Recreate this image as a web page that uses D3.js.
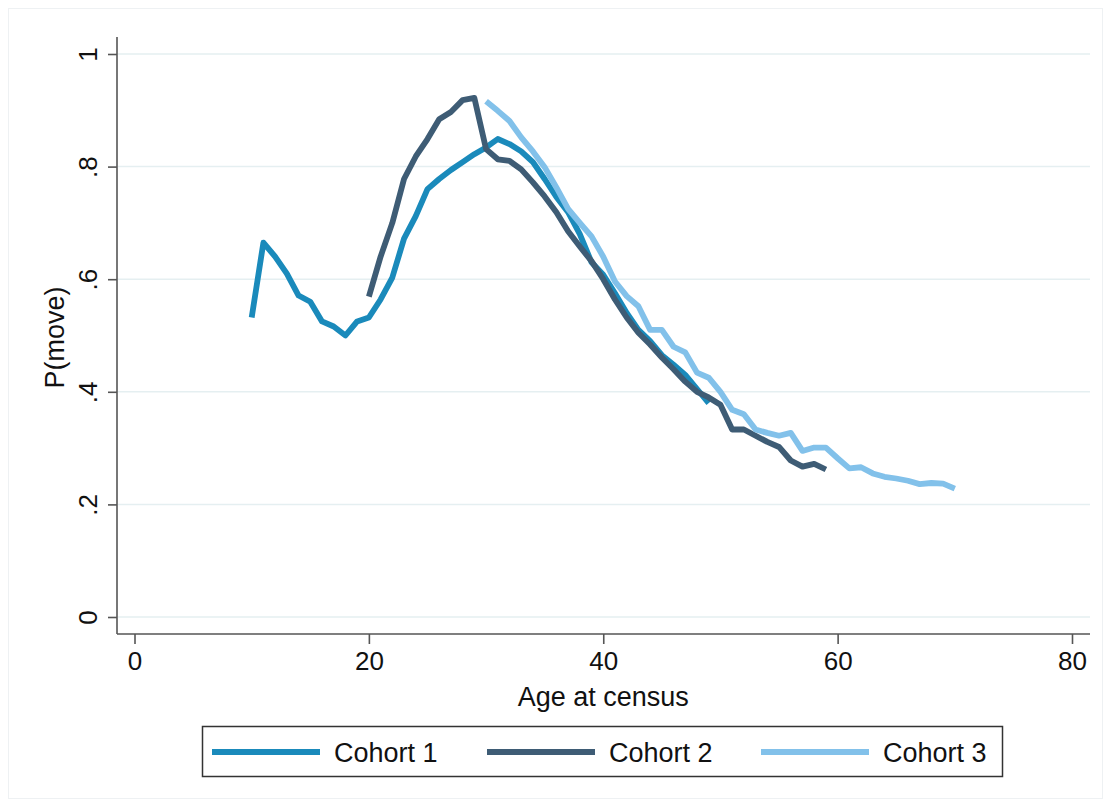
<!DOCTYPE html>
<html>
<head>
<meta charset="utf-8">
<script src="https://cdn.jsdelivr.net/npm/d3@7"></script>
<style>
  html, body { margin: 0; padding: 0; background: #fff; }
  svg { display: block; }
  text { font-family: "Liberation Sans", Arial, sans-serif; fill: #111; }
</style>
</head>
<body>
<svg id="chart" width="1111" height="807"></svg>
<script>
// ---- data ----
const seriesNames = ["Cohort 1", "Cohort 2", "Cohort 3"];
const ages1 = d3.range(10, 50);
const cohort1 = [.532,.665,.64,.61,.571,.56,.525,.516,.50,.525,.532,.564,.603,.672,.712,.76,.778,.794,.808,.822,.834,.849,.84,.827,.808,.778,.746,.719,.68,.63,.608,.575,.54,.51,.49,.465,.448,.43,.405,.38];
const ages2 = d3.range(20, 60);
const cohort2 = [.569,.64,.70,.778,.818,.849,.884,.897,.918,.922,.831,.813,.81,.795,.772,.747,.719,.685,.658,.632,.60,.564,.532,.505,.484,.461,.44,.418,.40,.39,.377,.333,.333,.322,.311,.302,.278,.267,.272,.262];
const ages3 = d3.range(30, 71);
const cohort3 = [.916,.899,.881,.852,.827,.799,.763,.725,.70,.676,.64,.596,.57,.552,.51,.51,.48,.47,.434,.425,.40,.368,.36,.333,.327,.322,.327,.295,.301,.301,.282,.264,.266,.255,.249,.246,.242,.236,.238,.237,.228];
const xTicks = [0, 20, 40, 60, 80];
const yTicks = [0, .2, .4, .6, .8, 1];
const yTickLabels = ["0", ".2", ".4", ".6", ".8", "1"];
const colors = ["#1a8abb", "#3e5c75", "#82c1ea"];

const svg = d3.select("#chart");

// graph region border
svg.append("rect").attr("x", 8.5).attr("y", 8.5).attr("width", 1094).attr("height", 790)
  .attr("fill", "#fff").attr("stroke", "#eef1f3").attr("stroke-width", 1);

const x = d3.scaleLinear().domain([0, 80]).range([134.5, 1072]);
const y = d3.scaleLinear().domain([0, 1]).range([617, 54]);
const axisLeftX = 117, axisBottomY = 634;

// gridlines
svg.append("g").selectAll("line").data(yTicks).join("line")
  .attr("x1", axisLeftX + 1).attr("x2", 1090)
  .attr("y1", d => y(d)).attr("y2", d => y(d))
  .attr("stroke", "#e5eff1").attr("stroke-width", 1.5);

// y axis
const yAxis = d3.axisLeft(y).tickValues(yTicks).tickFormat((d, i) => yTickLabels[i]).tickSize(9).tickPadding(8);
const gy = svg.append("g").attr("transform", `translate(${axisLeftX},0)`).call(yAxis);
gy.select(".domain").attr("d", `M0,${37}V${axisBottomY}`).attr("stroke", "#555").attr("stroke-width", 1.6);
gy.selectAll(".tick line").attr("stroke", "#555").attr("stroke-width", 1.6);
gy.selectAll(".tick text")
  .attr("font-size", 26).attr("font-family", "Liberation Sans, Arial, sans-serif").attr("fill", "#111")
  .attr("x", null).attr("dy", null).attr("text-anchor", "middle")
  .attr("transform", "translate(-20,0) rotate(-90)")
  .attr("y", 0);

// x axis
const xAxis = d3.axisBottom(x).tickValues(xTicks).tickFormat(d3.format("d")).tickSize(10).tickPadding(8);
const gx = svg.append("g").attr("transform", `translate(0,${axisBottomY})`).call(xAxis);
gx.select(".domain").attr("d", `M${axisLeftX},0H1090`).attr("stroke", "#555").attr("stroke-width", 1.6);
gx.selectAll(".tick line").attr("stroke", "#555").attr("stroke-width", 1.6);
gx.selectAll(".tick text").attr("font-size", 26).attr("font-family", "Liberation Sans, Arial, sans-serif").attr("fill", "#111");

// axis titles
svg.append("text").attr("x", (x(0) + x(80)) / 2).attr("y", 706).attr("text-anchor", "middle")
  .attr("font-size", 27).text("Age at census");
svg.append("text").attr("transform", `translate(64,${(y(0) + y(1)) / 2 + 2}) rotate(-90)`)
  .attr("text-anchor", "middle").attr("font-size", 27).text("P(move)");

// lines
const series = [
  { name: seriesNames[0], ages: ages1, vals: cohort1, color: colors[0] },
  { name: seriesNames[1], ages: ages2, vals: cohort2, color: colors[1] },
  { name: seriesNames[2], ages: ages3, vals: cohort3, color: colors[2] }
];
const line = d3.line().x(d => x(d[0])).y(d => y(d[1]));
svg.append("g").selectAll("path").data(series).join("path")
  .attr("d", s => line(s.ages.map((a, i) => [a, s.vals[i]])))
  .attr("fill", "none").attr("stroke", s => s.color).attr("stroke-width", 5.8)
  .attr("stroke-linejoin", "round");

// legend
svg.append("rect").attr("x", 202.5).attr("y", 726.5).attr("width", 800).attr("height", 50)
  .attr("fill", "#fff").attr("stroke", "#333").attr("stroke-width", 1.5);
const legendX = [212, 487, 761];
const lg = svg.append("g").selectAll("g").data(series).join("g")
  .attr("transform", (s, i) => `translate(${legendX[i]},752)`);
lg.append("line").attr("x1", 0).attr("x2", 108).attr("y1", 0).attr("y2", 0)
  .attr("stroke", s => s.color).attr("stroke-width", 5.8);
lg.append("text").attr("x", 122).attr("y", 10).attr("font-size", 27).text(s => s.name);
</script>
</body>
</html>
